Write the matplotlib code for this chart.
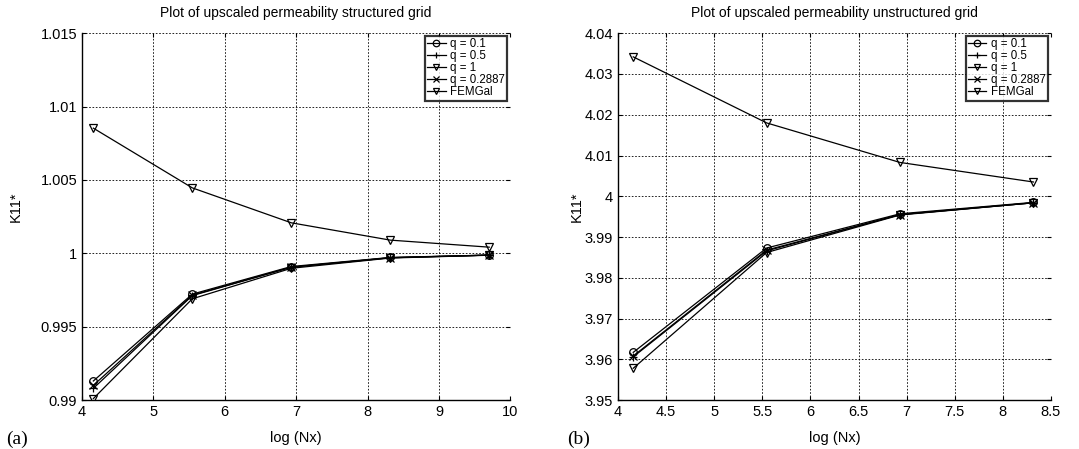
import matplotlib
matplotlib.use("Agg")
import matplotlib.pyplot as plt

plt.rcParams["font.family"] = ["Liberation Sans", "DejaVu Sans"]

# log(Nx) for Nx = 64 ... 16384
x_struct = [4.159, 5.545, 6.931, 8.318, 9.704]
x_unstruct = [4.159, 5.545, 6.931, 8.318]

series_labels = ["q = 0.1", "q = 0.5", "q = 1", "q = 0.2887", "FEMGal"]

# Structured grid
s_q01 = [0.9913, 0.99722, 0.99910, 0.99972, 0.99988]
s_q05 = [0.9908, 0.99712, 0.99905, 0.99970, 0.99988]
s_q1 = [0.9901, 0.99690, 0.99898, 0.99968, 0.99987]
s_q02887 = [0.9910, 0.99715, 0.99906, 0.99970, 0.99988]
s_fem = [1.00853, 1.00446, 1.00208, 1.00090, 1.00042]

# Unstructured grid
u_q01 = [3.9617, 3.9873, 3.9957, 3.9985]
u_q05 = [3.9606, 3.9866, 3.9955, 3.9984]
u_q1 = [3.9578, 3.9862, 3.9954, 3.9984]
u_q02887 = [3.9608, 3.9868, 3.9955, 3.9984]
u_fem = [4.0342, 4.0180, 4.0083, 4.0035]

x_ticks_a = [4, 5, 6, 7, 8, 9, 10]
y_ticks_a = [0.99, 0.995, 1.0, 1.005, 1.01, 1.015]
y_ticklabels_a = ["0.99", "0.995", "1", "1.005", "1.01", "1.015"]
x_ticks_b = [4, 4.5, 5, 5.5, 6, 6.5, 7, 7.5, 8, 8.5]
x_ticklabels_b = ["4", "4.5", "5", "5.5", "6", "6.5", "7", "7.5", "8", "8.5"]
y_ticks_b = [3.95, 3.96, 3.97, 3.98, 3.99, 4.0, 4.01, 4.02, 4.03, 4.04]
y_ticklabels_b = ["3.95", "3.96", "3.97", "3.98", "3.99", "4", "4.01", "4.02", "4.03", "4.04"]

markers = ["o", "+", "v", "x", "v"]

fig = plt.figure(figsize=(10.79, 4.49), dpi=100)
ax_a = fig.add_axes([0.076, 0.109, 0.397, 0.817])
ax_b = fig.add_axes([0.5727, 0.109, 0.4013, 0.817])


def draw(ax, x, ys, title, xt, xtl, yt, ytl, xlim, ylim, ylabel_x):
    for y, m, lab in zip(ys, markers, series_labels):
        ax.plot(x, y, color="black", lw=0.9, marker=m, markersize=5.5,
                markerfacecolor="none", markeredgecolor="black",
                markeredgewidth=0.9, label=lab)
    ax.set_xlim(*xlim)
    ax.set_ylim(*ylim)
    ax.set_xticks(xt)
    ax.set_xticklabels(xtl)
    ax.set_yticks(yt)
    ax.set_yticklabels(ytl)
    ax.grid(True, color="black", linestyle=(0, (2, 2)), linewidth=0.6)
    ax.spines["top"].set_visible(False)
    ax.spines["right"].set_visible(False)
    ax.spines["left"].set_linewidth(1.0)
    ax.spines["bottom"].set_linewidth(1.0)
    ax.tick_params(direction="in", length=3, labelsize=10.5, colors="black",
                   top=True, right=True, width=0.8)
    ax.set_title(title, fontsize=10, pad=12)
    ax.set_xlabel("log (Nx)", fontsize=10.5, labelpad=9)
    ax.set_ylabel("K11*", fontsize=10.5)
    ax.yaxis.set_label_coords(ylabel_x, 0.526)
    leg = ax.legend(loc="upper right", fontsize=8.3, frameon=True, fancybox=False,
                    borderpad=0.2, labelspacing=0.0, handlelength=1.6,
                    handletextpad=0.4, borderaxespad=0.25, markerscale=0.85)
    leg.get_frame().set_edgecolor("black")
    leg.get_frame().set_linewidth(1.6)


draw(ax_a, x_struct, [s_q01, s_q05, s_q1, s_q02887, s_fem],
     "Plot of upscaled permeability structured grid",
     x_ticks_a, [str(v) for v in x_ticks_a], y_ticks_a, y_ticklabels_a,
     (4, 10), (0.99, 1.015), -0.138)
draw(ax_b, x_unstruct, [u_q01, u_q05, u_q1, u_q02887, u_fem],
     "Plot of upscaled permeability unstructured grid",
     x_ticks_b, x_ticklabels_b, y_ticks_b, y_ticklabels_b,
     (4, 8.5), (3.95, 4.04), -0.079)

fig.text(0.006, 0.012, "(a)", fontsize=14, family=["Liberation Serif", "DejaVu Serif"])
fig.text(0.526, 0.012, "(b)", fontsize=14, family=["Liberation Serif", "DejaVu Serif"])

fig.savefig("out.png", dpi=100)
